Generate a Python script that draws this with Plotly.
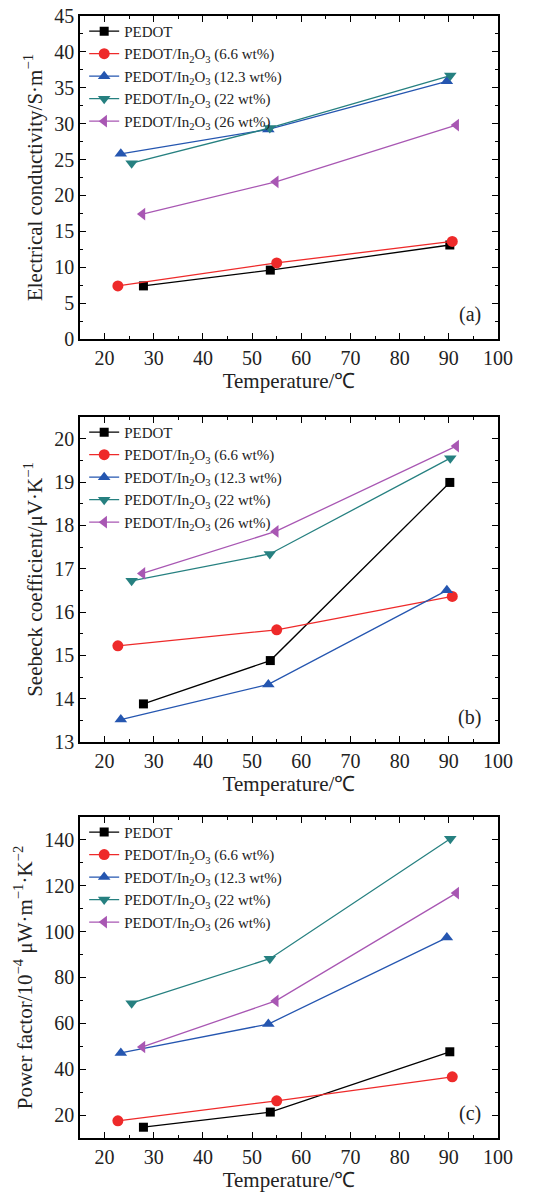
import plotly.graph_objects as go

names = ["PEDOT", "PEDOT/In<sub>2</sub>O<sub>3</sub> (6.6 wt%)", "PEDOT/In<sub>2</sub>O<sub>3</sub> (12.3 wt%)",
         "PEDOT/In<sub>2</sub>O<sub>3</sub> (22 wt%)", "PEDOT/In<sub>2</sub>O<sub>3</sub> (26 wt%)"]
colors = ["#000000", "#ee2a2a", "#2556b0", "#268080", "#a857b3"]
symbols = ["square", "circle", "triangle-up", "triangle-down", "triangle-left"]
msizes = [9, 11, 11, 11, 11]

temp = [
    [27.9, 53.7, 90.2],
    [22.7, 55.0, 90.7],
    [23.3, 53.3, 89.6],
    [25.5, 53.6, 90.3],
    [27.7, 54.8, 91.5],
]
conductivity = [
    [7.4, 9.6, 13.1],
    [7.4, 10.6, 13.6],
    [25.8, 29.2, 35.9],
    [24.5, 29.4, 36.7],
    [17.4, 21.9, 29.8],
]
seebeck = [
    [13.88, 14.88, 18.99],
    [15.22, 15.59, 16.36],
    [13.52, 14.33, 16.5],
    [16.72, 17.34, 19.55],
    [16.89, 17.86, 19.83],
]
power = [
    [14.7, 21.3, 47.6],
    [17.5, 26.2, 36.7],
    [47.1, 59.7, 97.4],
    [68.8, 88.2, 140.5],
    [49.7, 69.8, 116.8],
]

panels = [
    (conductivity, "Electrical conductivity/S·m<sup>−1</sup>", [0, 45], 5, 2.5, "(a)"),
    (seebeck, "Seebeck coefficient/μV·K<sup>−1</sup>", [13, 20.5], 1, 0.5, "(b)"),
    (power, "Power factor/10<sup>−4</sup> μW·m<sup>−1</sup>·K<sup>−2</sup>", [10, 150], 20, 10, "(c)"),
]
domains = [[0.7121, 1.0], [0.3529, 0.6426], [0.0, 0.2861]]

FONT = "Liberation Serif"
TXT = "#222"
fig = go.Figure()
for p, (data, ytitle, yr, dt, mdt, lab) in enumerate(panels):
    xa = "x" if p == 0 else f"x{p+1}"
    ya = "y" if p == 0 else f"y{p+1}"
    leg = "legend" if p == 0 else f"legend{p+1}"
    for i in range(5):
        fig.add_trace(go.Scatter(
            x=temp[i], y=data[i], name=names[i], mode="lines+markers",
            line=dict(color=colors[i], width=1.3),
            marker=dict(symbol=symbols[i], size=msizes[i], color=colors[i]),
            xaxis=xa, yaxis=ya, legend=leg))
    axsuffix = "" if p == 0 else str(p + 1)
    common = dict(showline=True, linecolor="black", linewidth=1.5, mirror="allticks",
                  ticks="inside", ticklen=6, tickwidth=1.2, tickcolor="black",
                  showgrid=False, zeroline=False, automargin=False,
                  tickfont=dict(family=FONT, size=20, color=TXT))
    fig.layout["xaxis" + axsuffix] = dict(
        common, domain=[0, 1], anchor=ya, range=[15, 100], tickvals=list(range(20, 101, 10)),
        minor=dict(dtick=5, tick0=0, ticks="inside", ticklen=3, tickcolor="black", tickwidth=1),
        title=dict(text="Temperature/℃", font=dict(family=FONT, size=21, color=TXT), standoff=4))
    fig.layout["yaxis" + axsuffix] = dict(
        common, domain=domains[p], anchor=xa, range=yr, dtick=dt, tick0=0,
        minor=dict(dtick=mdt, tick0=0, ticks="inside", ticklen=3, tickcolor="black", tickwidth=1),
        title=dict(text=ytitle, font=dict(family=FONT, size=21, color=TXT), standoff=6))
    fig.layout[leg] = dict(x=0.01, y=domains[p][1] + 0.001, xanchor="left", yanchor="top",
                           bgcolor="rgba(0,0,0,0)", tracegroupgap=0, itemwidth=30,
                           font=dict(family=FONT, size=15, color=TXT))
    fig.add_annotation(text=lab, xref="x" + axsuffix + " domain", yref="y" + axsuffix + " domain",
                       x=0.965, y=0.035, xanchor="right", yanchor="bottom", showarrow=False,
                       font=dict(family=FONT, size=20, color=TXT))

fig.update_layout(width=558, height=1195, margin=dict(l=80, r=60, t=16, b=57),
                  plot_bgcolor="white", paper_bgcolor="white", showlegend=True)
fig.write_html("out.html", config={"displayModeBar": False},
               post_script="document.body.style.margin='0';")
